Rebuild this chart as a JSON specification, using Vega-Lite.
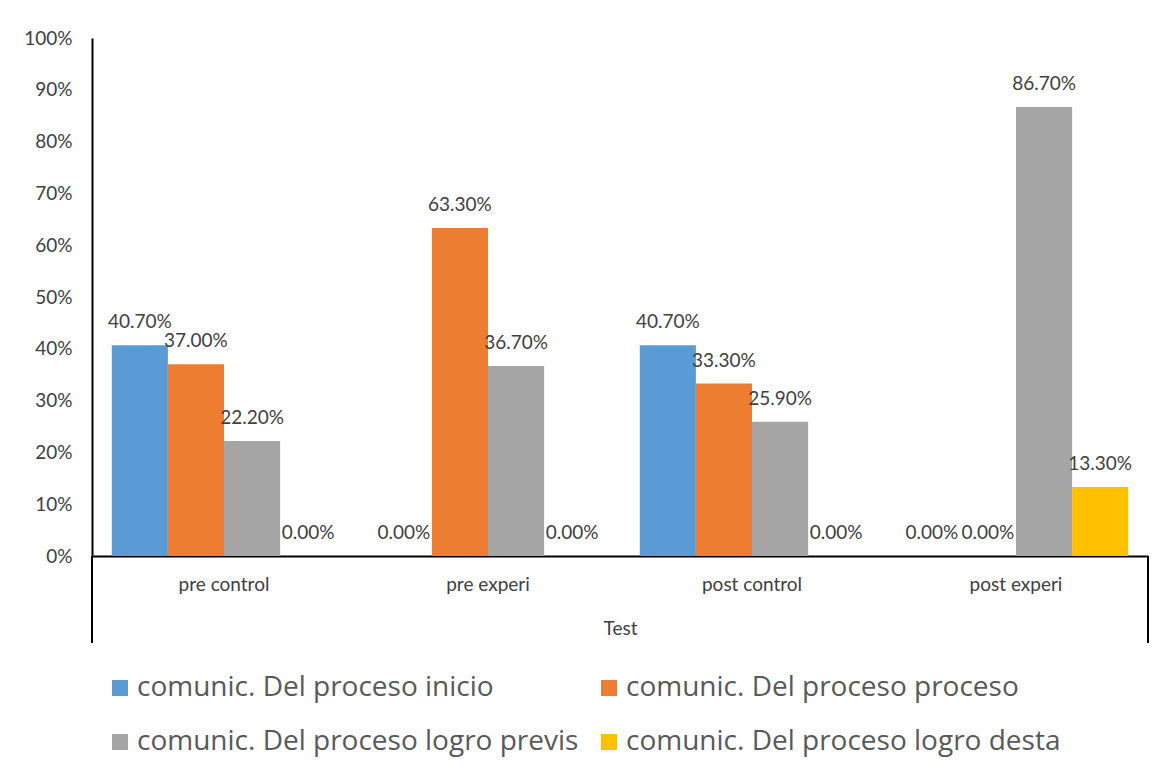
{
  "$schema": "https://vega.github.io/schema/vega-lite/v6.json",
  "width": 1056,
  "height": 518,
  "autosize": {"type": "none"},
  "padding": {"left": 92, "top": 38, "right": 15, "bottom": 220},
  "background": "white",
  "config": {"view": {"stroke": null}, "font": "Lato"},
  "resolve": {"scale": {"x": "independent"}},
  "layer": [
    {
      "data": {
        "values": [
          {"test": "pre control", "serie": "comunic. Del proceso inicio", "value": 0.407},
          {"test": "pre control", "serie": "comunic. Del proceso proceso", "value": 0.37},
          {"test": "pre control", "serie": "comunic. Del proceso logro previs", "value": 0.222},
          {"test": "pre control", "serie": "comunic. Del proceso logro desta", "value": 0},
          {"test": "pre experi", "serie": "comunic. Del proceso inicio", "value": 0},
          {"test": "pre experi", "serie": "comunic. Del proceso proceso", "value": 0.633},
          {"test": "pre experi", "serie": "comunic. Del proceso logro previs", "value": 0.367},
          {"test": "pre experi", "serie": "comunic. Del proceso logro desta", "value": 0},
          {"test": "post control", "serie": "comunic. Del proceso inicio", "value": 0.407},
          {"test": "post control", "serie": "comunic. Del proceso proceso", "value": 0.333},
          {"test": "post control", "serie": "comunic. Del proceso logro previs", "value": 0.259},
          {"test": "post control", "serie": "comunic. Del proceso logro desta", "value": 0},
          {"test": "post experi", "serie": "comunic. Del proceso inicio", "value": 0},
          {"test": "post experi", "serie": "comunic. Del proceso proceso", "value": 0},
          {"test": "post experi", "serie": "comunic. Del proceso logro previs", "value": 0.867},
          {"test": "post experi", "serie": "comunic. Del proceso logro desta", "value": 0.133}
        ]
      },
      "encoding": {
        "x": {
          "field": "test",
          "type": "nominal",
          "sort": ["pre control", "pre experi", "post control", "post experi"],
          "scale": {"paddingInner": 0.15, "paddingOuter": 0.075},
          "axis": {
            "title": "Test",
            "titleFontSize": 19,
            "titleFontWeight": "normal",
            "titleColor": "#404040",
            "titlePadding": 25,
            "labelAngle": 0,
            "labelFontSize": 19,
            "labelColor": "#404040",
            "labelPadding": 19,
            "domainColor": "black",
            "domainWidth": 2,
            "ticks": false
          }
        },
        "xOffset": {
          "field": "serie",
          "type": "nominal",
          "sort": ["comunic. Del proceso inicio", "comunic. Del proceso proceso", "comunic. Del proceso logro previs", "comunic. Del proceso logro desta"],
          "scale": {"paddingInner": 0, "paddingOuter": 0}
        },
        "y": {
          "field": "value",
          "type": "quantitative",
          "scale": {"domain": [0, 1]},
          "axis": {
            "title": null,
            "format": "%",
            "values": [0, 0.1, 0.2, 0.3, 0.4, 0.5, 0.6, 0.7, 0.8, 0.9, 1],
            "ticks": false,
            "grid": false,
            "labelPadding": 20,
            "labelFontSize": 19,
            "labelColor": "#404040",
            "domainColor": "black",
            "domainWidth": 2
          }
        }
      },
      "layer": [
        {
          "mark": {"type": "bar"},
          "encoding": {
            "color": {
              "field": "serie",
              "type": "nominal",
              "sort": ["comunic. Del proceso inicio", "comunic. Del proceso proceso", "comunic. Del proceso logro previs", "comunic. Del proceso logro desta"],
              "scale": {
                "domain": ["comunic. Del proceso inicio", "comunic. Del proceso proceso", "comunic. Del proceso logro previs", "comunic. Del proceso logro desta"],
                "range": ["#5B9BD5", "#ED7D31", "#A5A5A5", "#FFC000"]
              },
              "legend": {
                "title": null,
                "orient": "none",
                "legendX": 14,
                "legendY": 636,
                "direction": "horizontal",
                "columns": 2,
                "columnPadding": 16,
                "rowPadding": 26,
                "symbolType": "square",
                "symbolSize": 256,
                "symbolStrokeWidth": 0,
                "labelFont": "Open Sans",
                "labelFontSize": 28,
                "labelColor": "#595959",
                "labelOffset": 3,
                "labelLimit": 0
              }
            }
          }
        },
        {
          "mark": {"type": "text", "dy": -23, "fontSize": 19, "color": "#404040", "baseline": "middle"},
          "encoding": {
            "text": {"field": "value", "type": "quantitative", "format": ".2%"}
          }
        }
      ]
    },
    {
      "data": {"values": [{"edge": 0}, {"edge": 1}]},
      "mark": {"type": "rule", "color": "black", "strokeWidth": 2},
      "encoding": {
        "x": {"field": "edge", "type": "quantitative", "scale": {"domain": [0, 1], "nice": false, "zero": false}, "axis": null},
        "y": {"datum": 0, "type": "quantitative"},
        "y2": {"datum": -0.168}
      }
    }
  ]
}
